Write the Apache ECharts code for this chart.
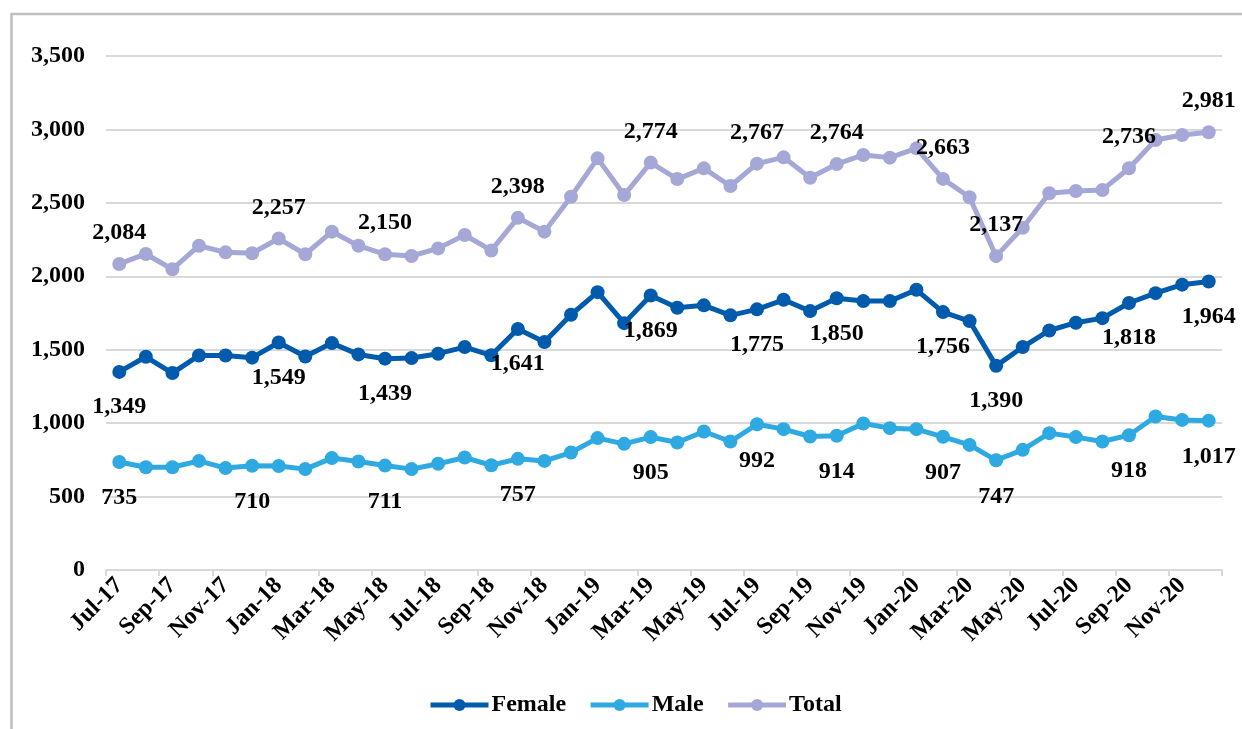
<!DOCTYPE html>
<html>
<head>
<meta charset="utf-8">
<title>Female / Male / Total</title>
<script src="https://cdn.jsdelivr.net/npm/echarts@6/dist/echarts.min.js"></script>
<style>
  html, body { margin: 0; padding: 0; background: #fff; }
  #chart { width: 1242px; height: 729px; }
</style>
</head>
<body>
<div id="chart"></div>
<script>
// month categories
var months = ['Jul-17','Aug-17','Sep-17','Oct-17','Nov-17','Dec-17',
    'Jan-18','Feb-18','Mar-18','Apr-18','May-18','Jun-18','Jul-18','Aug-18','Sep-18','Oct-18','Nov-18','Dec-18',
    'Jan-19','Feb-19','Mar-19','Apr-19','May-19','Jun-19','Jul-19','Aug-19','Sep-19','Oct-19','Nov-19','Dec-19',
    'Jan-20','Feb-20','Mar-20','Apr-20','May-20','Jun-20','Jul-20','Aug-20','Sep-20','Oct-20','Nov-20','Dec-20'];

var female = [1349,1452,1341,1461,1461,1446,1549,1454,1545,1468,1439,1443,1473,1518,1462,1641,1552,1738,
    1892,1681,1869,1786,1802,1734,1775,1840,1763,1850,1831,1831,1908,1756,1695,1390,1518,1631,1684,1715,1818,1885,1943,1964];
var male = [735,700,700,743,694,710,708,687,762,739,711,687,723,766,713,757,743,800,
    898,859,905,868,943,875,992,959,909,914,998,966,959,907,852,747,818,932,905,875,918,1045,1022,1017];
var total = [2084,2152,2048,2208,2163,2157,2257,2150,2304,2208,2150,2138,2190,2281,2176,2398,2304,2542,
    2803,2553,2774,2662,2735,2615,2767,2810,2671,2764,2826,2808,2871,2663,2538,2137,2331,2565,2581,2588,2736,2928,2962,2981];

// which points carry a value label
var femaleLabelIdx = [0,6,10,15,20,24,27,31,33,38,41];
var maleLabelIdx = [0,5,10,15,20,24,27,31,33,38,41];
var totalLabelIdx = [0,6,10,15,20,24,27,31,33,38,41];

var yTicks = [0,500,1000,1500,2000,2500,3000,3500];

var FONT = "'Liberation Serif', 'Times New Roman', serif";

function fmt(v){
    return Number(v).toLocaleString('en-US');
}

//把数值和标注点合成 series data
function buildData(values, labelIdx, pos){
    return values.map(function(v, i){
        if(labelIdx.indexOf(i) >= 0){
            return {value: v, label: {show: true, position: pos}};
        }
        return v;
    });
}

function lineSeries(name, color, values, labelIdx, pos, dist){
    return {
        name: name,
        type: 'line',
        data: buildData(values, labelIdx, pos),
        symbol: 'circle',
        symbolSize: 14,
        lineStyle: {width: 5, color: color},
        itemStyle: {color: color},
        label: {
            show: false,
            distance: dist,
            fontFamily: FONT,
            fontWeight: 'bold',
            fontSize: 24,
            color: '#000',
            formatter: function(p){ return fmt(p.value); }
        },
        emphasis: {disabled: true},
        animation: false
    };
}

var chart = echarts.init(document.getElementById('chart'));
var option = {
    backgroundColor: '#fff',
    animation: false,
    graphic: [{
        type: 'rect',
        silent: true,
        z: -10,
        shape: {x: 11.5, y: 14, width: 1400, height: 900},
        style: {fill: 'none', stroke: '#bfbfbf', lineWidth: 2.5}
    }],
    grid: {left: 106, right: 20, top: 56, bottom: 159, containLabel: false},
    legend: {
        data: ['Female','Male','Total'],
        left: 423,
        top: 688,
        itemWidth: 58,
        itemHeight: 15,
        itemGap: 22,
        lineStyle: {width: 5},
        textStyle: {fontFamily: FONT, fontWeight: 'bold', fontSize: 24, color: '#000', padding: [0,0,0,-2]}
    },
    xAxis: {
        type: 'category',
        data: months,
        boundaryGap: true,
        axisLine: {lineStyle: {color: '#d9d9d9', width: 2}},
        axisTick: {show: true, interval: 1, length: 6, lineStyle: {color: '#d9d9d9', width: 2}},
        axisLabel: {
            interval: 1,
            rotate: 45,
            margin: 12,
            fontFamily: FONT,
            fontWeight: 'bold',
            fontSize: 24,
            color: '#000'
        },
        splitLine: {show: false}
    },
    yAxis: {
        type: 'value',
        min: yTicks[0],
        max: yTicks[yTicks.length - 1],
        interval: 500,
        axisLine: {show: false},
        axisTick: {show: false},
        axisLabel: {
            margin: 21,
            fontFamily: FONT,
            fontWeight: 'bold',
            fontSize: 24,
            color: '#000',
            formatter: function(v){ return fmt(v); }
        },
        splitLine: {lineStyle: {color: '#d9d9d9', width: 2}}
    },
    series: [
        lineSeries('Female', '#005bac', female, femaleLabelIdx, 'bottom', 16),
        lineSeries('Male', '#2ea9e1', male, maleLabelIdx, 'bottom', 17),
        lineSeries('Total', '#a5a8d6', total, totalLabelIdx, 'top', 12)
    ]
};
chart.setOption(option);
</script>
</body>
</html>
